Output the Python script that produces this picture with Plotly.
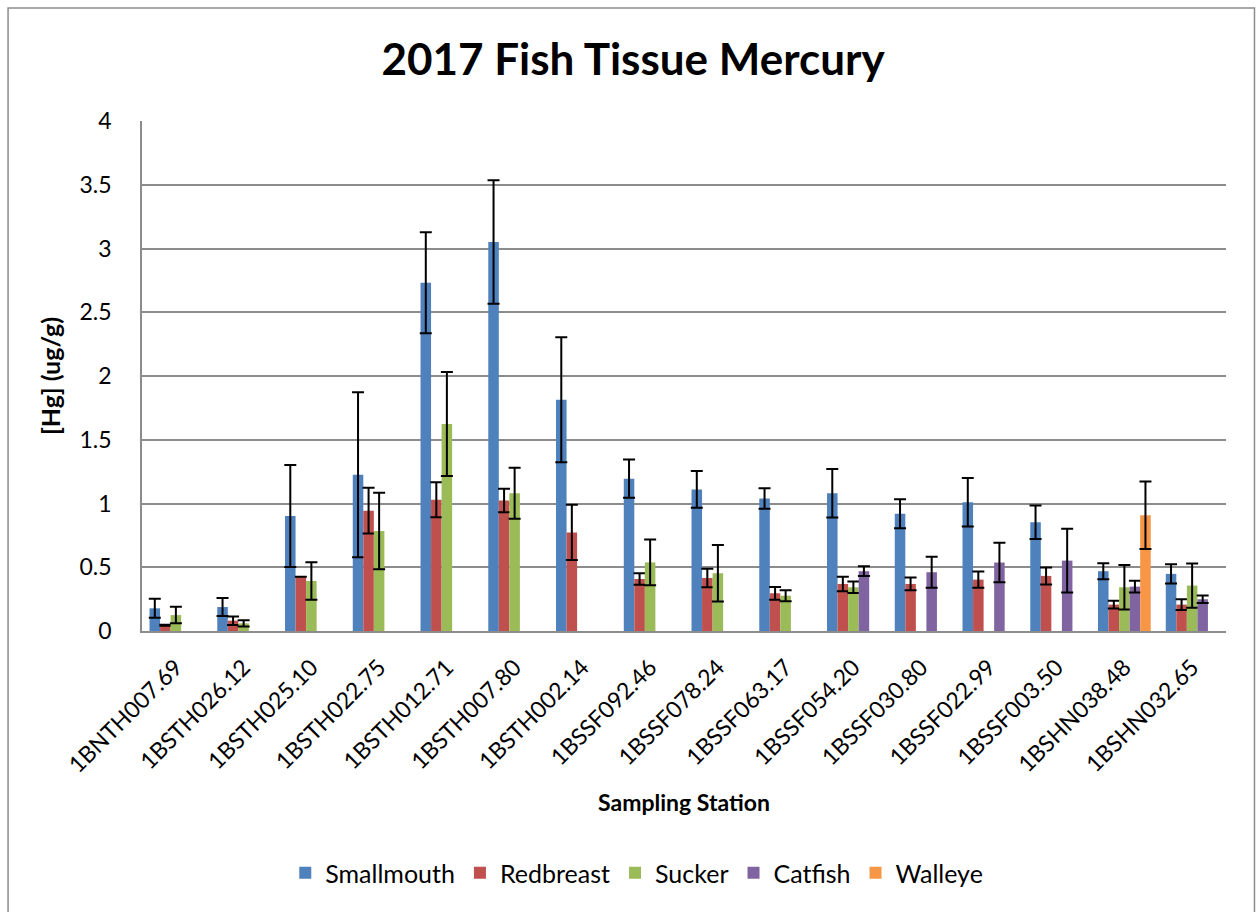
import plotly.graph_objects as go

categories = ["1BNTH007.69", "1BSTH026.12", "1BSTH025.10", "1BSTH022.75",
              "1BSTH012.71", "1BSTH007.80", "1BSTH002.14", "1BSSF092.46",
              "1BSSF078.24", "1BSSF063.17", "1BSSF054.20", "1BSSF030.80",
              "1BSSF022.99", "1BSSF003.50", "1BSHN038.48", "1BSHN032.65"]

smallmouth = [0.178, 0.188, 0.902, 1.226, 2.732, 3.051, 1.814, 1.195,
              1.110, 1.039, 1.081, 0.919, 1.010, 0.853, 0.469, 0.448]
smallmouth_err = [0.075, 0.070, 0.400, 0.647, 0.396, 0.484, 0.490, 0.150,
                  0.144, 0.081, 0.190, 0.114, 0.190, 0.132, 0.063, 0.075]

redbreast = [0.045, 0.081, 0.426, 0.944, 1.030, 1.024, 0.773, 0.408,
             0.416, 0.296, 0.369, 0.369, 0.403, 0.432, 0.207, 0.207]
redbreast_err = [0.004, 0.033, 0.000, 0.180, 0.137, 0.092, 0.217, 0.045,
                 0.072, 0.050, 0.057, 0.050, 0.063, 0.067, 0.030, 0.043]

sucker = [0.125, 0.060, 0.392, 0.784, 1.624, 1.081, None, 0.538,
          0.453, 0.277, 0.343, None, None, None, 0.343, 0.356]
sucker_err = [0.065, 0.024, 0.147, 0.300, 0.408, 0.200, None, 0.180,
              0.222, 0.043, 0.045, None, None, None, 0.174, 0.173]

catfish = [None, None, None, None, None, None, None, None,
           None, None, 0.469, 0.461, 0.537, 0.552, 0.348, 0.249]
catfish_err = [None, None, None, None, None, None, None, None,
               None, None, 0.038, 0.122, 0.155, 0.250, 0.047, 0.030]

walleye = [None, None, None, None, None, None, None, None,
           None, None, None, None, None, None, 0.908, None]
walleye_err = [None, None, None, None, None, None, None, None,
               None, None, None, None, None, None, 0.265, None]

series = [
    ("Smallmouth", smallmouth, smallmouth_err, "#4F81BD"),
    ("Redbreast", redbreast, redbreast_err, "#C0504D"),
    ("Sucker", sucker, sucker_err, "#9BBB59"),
    ("Catfish", catfish, catfish_err, "#8064A2"),
    ("Walleye", walleye, walleye_err, "#F79646"),
]

FONT = "Lato"
W, H = 1257, 912
L, R, T, B = 142, 1226.5, 121, 631  # plot area in pixels

fig = go.Figure()
for name, vals, errs, color in series:
    fig.add_trace(go.Bar(
        name=name, x=categories, y=vals,
        marker=dict(color=color, line=dict(width=0)),
        error_y=dict(type="data", array=errs, visible=True,
                     color="black", thickness=2, width=6),
    ))

def px(x):
    return (x - L) / (R - L)

def py(y):
    return (B - y) / (B - T)

fig.update_layout(
    width=W, height=H,
    margin=dict(l=L, r=W - R, t=T, b=H - B, pad=0),
    paper_bgcolor="white", plot_bgcolor="white",
    barmode="group", bargap=0.222, bargroupgap=0,
    font=dict(family=FONT, color="black", size=23),
    title=dict(text="<b>2017 Fish Tissue Mercury</b>",
               font=dict(family=FONT, size=44, color="black"),
               x=633 / W, xref="container", xanchor="center",
               y=1 - 60 / H, yref="container", yanchor="middle"),
    legend=dict(orientation="h", x=px(637), xanchor="center",
                y=py(873), yanchor="middle",
                font=dict(family=FONT, size=25, color="black"),
                bgcolor="rgba(0,0,0,0)", itemwidth=30),
    showlegend=True,
)

fig.update_yaxes(
    range=[0, 4], dtick=0.5, showgrid=True,
    gridcolor="#8c8c8c", gridwidth=1.5,
    showline=True, linecolor="#8c8c8c", linewidth=1.5,
    ticks="", ticklabelstandoff=24,
    tickfont=dict(family=FONT, size=23, color="black"),
    title=dict(text="<b>[Hg] (ug/g)</b>", standoff=12,
               font=dict(family=FONT, size=25, color="black")),
    zeroline=False,
)
fig.update_xaxes(
    showline=True, linecolor="#8c8c8c", linewidth=1.5,
    showgrid=False, ticks="", tickangle=-45, ticklabelstandoff=12,
    tickfont=dict(family=FONT, size=23, color="black"),
    title=dict(text="<b>Sampling Station</b>", standoff=18,
               font=dict(family=FONT, size=23, color="black")),
)

# outer chart border
fig.add_shape(type="rect", xref="paper", yref="paper",
              x0=px(8), x1=px(1255), y0=py(930), y1=py(8),
              line=dict(color="#8c8c8c", width=1.5), fillcolor="rgba(0,0,0,0)",
              layer="below")

fig.write_html("out.html", config={"displayModeBar": False},
               post_script="document.body.style.margin='0';")
